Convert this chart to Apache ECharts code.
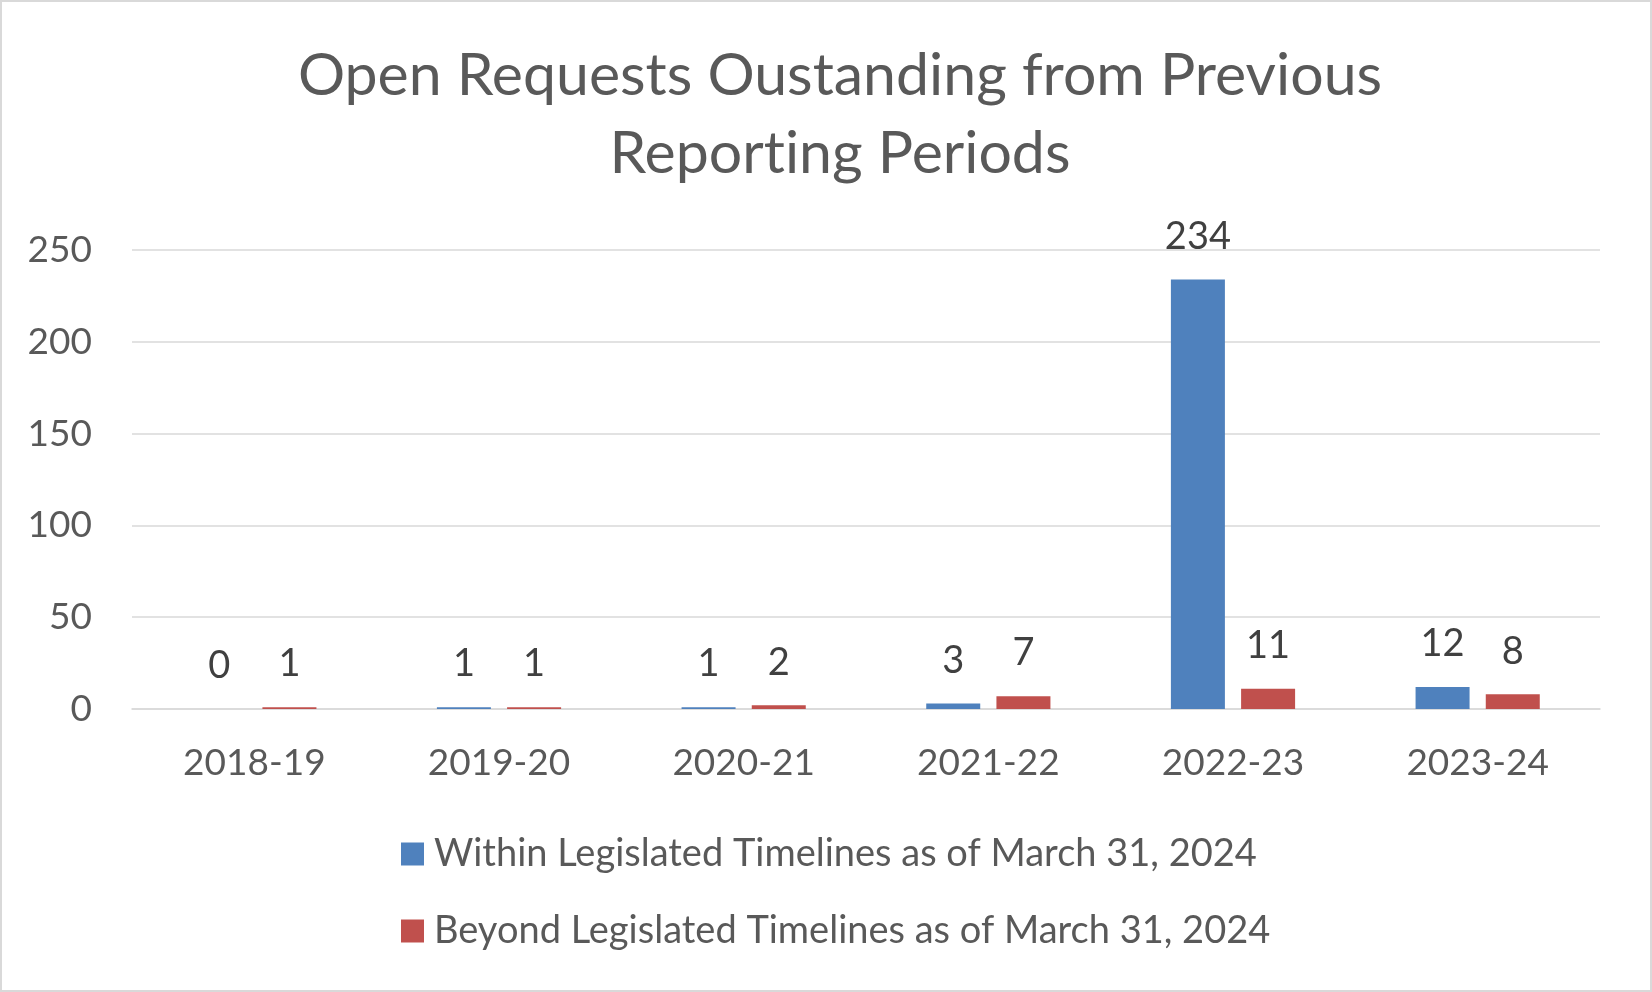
<!DOCTYPE html>
<html>
<head>
<meta charset="utf-8">
<script src="https://cdn.jsdelivr.net/npm/echarts@6/dist/echarts.min.js"></script>
<style>
html,body{margin:0;padding:0;background:#fff;}
#chart{width:1652px;height:992px;}
</style>
</head>
<body>
<div id="chart"></div>
<script>
// 'Report' and 'ing' are drawn as separate runs so the font's "ti" ligature is not used
const titleText = 'Open Requests Oustanding from Previous\nReport{s|ing Periods}';
const categories = ['2018-19', '2019-20', '2020-21', '2021-22', '2022-23', '2023-24'];
const seriesNames = ['Within Legislated Timelines as of March 31, 2024', 'Beyond Legislated Timelines as of March 31, 2024'];
const withinValues = [0, 1, 1, 3, 234, 12];
const beyondValues = [1, 1, 2, 7, 11, 8];
const yTicks = { min: 0, max: 250, interval: 50 };

const FONT = 'Lato';
const chart = echarts.init(document.getElementById('chart'));
const labelStyle = {
  show: true,
  position: 'top',
  distance: 24,
  color: '#404040',
  fontFamily: FONT,
  fontSize: 38
};
const titleFont = {
  fontFamily: FONT,
  fontWeight: 'normal',
  fontSize: 59,
  lineHeight: 78,
  color: '#595959'
};
chart.setOption({
  animation: false,
  backgroundColor: '#ffffff',
  graphic: [{
    type: 'rect',
    shape: { x: 1, y: 1, width: 1650, height: 990 },
    style: { fill: 'none', stroke: '#d9d9d9', lineWidth: 2 },
    silent: true
  }],
  title: {
    text: titleText,
    left: 840,
    top: 37,
    textAlign: 'center',
    padding: 0,
    textStyle: Object.assign({}, titleFont, { rich: { s: Object.assign({}, titleFont) } })
  },
  legend: {
    orient: 'vertical',
    left: 401,
    top: 835,
    icon: 'rect',
    itemWidth: 23,
    itemHeight: 23,
    itemGap: 39,
    padding: 0,
    textStyle: {
      fontFamily: FONT,
      fontSize: 38,
      lineHeight: 38,
      color: '#595959',
      padding: [0, 0, 0, 5]
    },
    data: seriesNames
  },
  grid: {
    left: 132,
    right: 52,
    top: 250,
    bottom: 283,
    containLabel: false
  },
  xAxis: {
    type: 'category',
    data: categories,
    axisLine: { show: true, lineStyle: { color: '#d9d9d9', width: 1.6 } },
    axisTick: { show: false },
    axisLabel: {
      margin: 36,
      color: '#595959',
      fontFamily: FONT,
      fontSize: 37
    }
  },
  yAxis: {
    type: 'value',
    min: yTicks.min,
    max: yTicks.max,
    interval: yTicks.interval,
    axisLine: { show: false },
    axisTick: { show: false },
    splitLine: { lineStyle: { color: '#d9d9d9', width: 1.6 } },
    axisLabel: {
      margin: 40,
      color: '#595959',
      fontFamily: FONT,
      fontSize: 37
    }
  },
  series: [
    {
      name: seriesNames[0],
      type: 'bar',
      data: withinValues,
      barWidth: 54,
      barGap: '30%',
      itemStyle: { color: '#4f81bd' },
      label: labelStyle
    },
    {
      name: seriesNames[1],
      type: 'bar',
      data: beyondValues,
      barWidth: 54,
      barGap: '30%',
      itemStyle: { color: '#c0504d' },
      label: labelStyle
    }
  ]
});
</script>
</body>
</html>
